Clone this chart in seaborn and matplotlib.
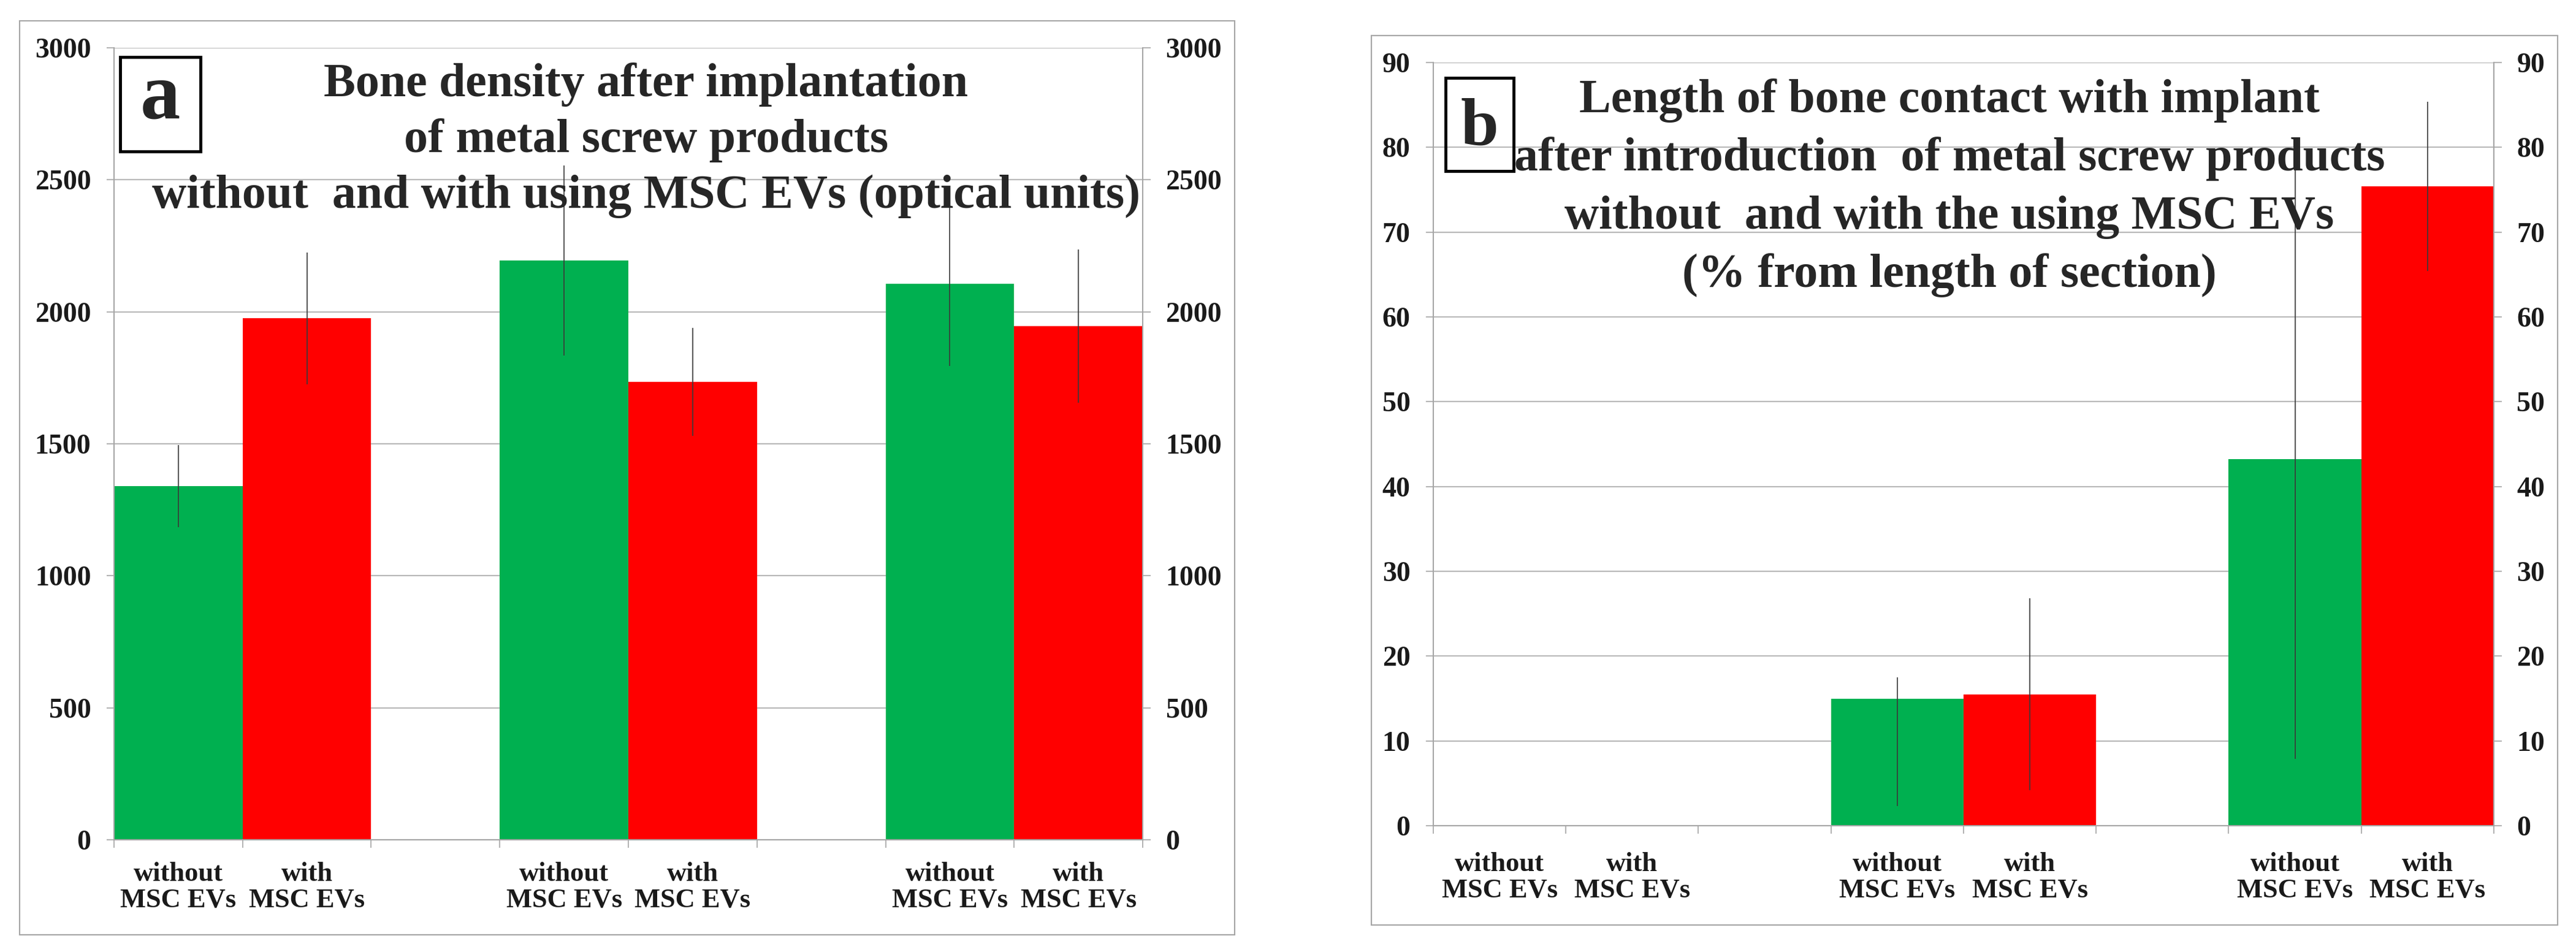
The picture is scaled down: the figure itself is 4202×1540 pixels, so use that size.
import pandas as pd
import numpy as np
import matplotlib
matplotlib.use('Agg')
import matplotlib.pyplot as plt
import seaborn as sns
from matplotlib.patches import Rectangle

# ======================
# DATA
# ======================
groups = ['g1', 'g2', 'g3']
treatments = ['without', 'with']
tick_labels = {'without': 'without\nMSC EVs', 'with': 'with\nMSC EVs'}
colors = {'without': '#00B050', 'with': '#FF0000'}

# panel a: bone density (optical units)
density = [1340, 1975, 2195, 1735, 2105, 1945]
density_err_lo = [155, 250, 360, 205, 310, 290]
density_err_hi = [155, 250, 360, 205, 310, 290]

# panel b: length of bone contact (% of section)
contact = [0, 0, 15.0, 15.5, 43.2, 75.4]
contact_err_lo = [0, 0, 12.7, 11.3, 35.3, 10.0]
contact_err_hi = [0, 0, 2.5, 11.3, 35.3, 10.0]

title_a = ['Bone density after implantation',
           'of metal screw products',
           'without  and with using MSC EVs (optical units)']
title_b = ['Length of bone contact with implant',
           'after introduction  of metal screw products',
           'without  and with the using MSC EVs',
           '(% from length of section)']

# category slots, an empty slot between the groups
order = []
for i, g in enumerate(groups):
    for t in treatments:
        order.append(g + ' ' + t)
    if i < len(groups) - 1:
        order.append('gap' + str(i))

sns.set_style('white')
plt.rcParams['font.family'] = ['Liberation Serif', 'DejaVu Serif']
plt.rcParams['font.weight'] = 'bold'

GRID = '#b8b8b8'
AXC = '#a6a6a6'


def draw_panel(ax, values, err_lo, err_hi, ymax, step, xpad):
    df = pd.DataFrame({
        'slot': [g + ' ' + t for g in groups for t in treatments],
        'treatment': [t for g in groups for t in treatments],
        'value': values,
        'lo': err_lo,
        'hi': err_hi,
    })
    sns.barplot(data=df, x='slot', y='value', hue='treatment', order=order,
                palette=colors, dodge=False, width=1.0, saturation=1,
                errorbar=None, legend=False, linewidth=0, ax=ax, zorder=2)

    # error bars (plain lines, no caps)
    for _, r in df.iterrows():
        if r['lo'] == 0 and r['hi'] == 0:
            continue
        x = order.index(r['slot'])
        ax.vlines(x, r['value'] - r['lo'], r['value'] + r['hi'],
                  color='#3a3a3a', lw=1.2, zorder=3)

    ax.set_xlim(-0.5, len(order) - 0.5)
    ax.set_ylim(0, ymax)
    ax.set_yticks(np.arange(0, ymax + step, step))
    ax.set_xticks(range(len(order)))
    ax.set_xticklabels([tick_labels[s.split(' ')[1]] if ' ' in s else ''
                        for s in order], linespacing=1.1)
    ax.set_xticks(np.arange(-0.5, len(order), 1), minor=True)
    ax.set_xlabel('')
    ax.set_ylabel('')

    ax.yaxis.grid(True, color=GRID, lw=1.5)
    ax.xaxis.grid(False)
    ax.set_axisbelow(True)
    for side in ['left', 'right', 'bottom']:
        ax.spines[side].set_visible(True)
        ax.spines[side].set_color(AXC)
        ax.spines[side].set_linewidth(1.5)
    ax.spines['top'].set_visible(False)

    ax.tick_params(axis='y', left=True, right=True, labelleft=True,
                   labelright=True, length=9, width=1.2, color=AXC,
                   pad=18, labelsize=33, labelcolor='#1a1a1a')
    ax.tick_params(axis='x', which='major', length=0, pad=xpad,
                   labelsize=32, labelcolor='#1a1a1a')
    ax.tick_params(axis='x', which='minor', bottom=True, length=9,
                   width=1.2, color=AXC)


fig = plt.figure(figsize=(42.02, 15.4), dpi=100)
ax_a = fig.add_axes([0.04426, 0.11039, 0.39934, 0.83896])
ax_b = fig.add_axes([0.55640, 0.12532, 0.41171, 0.80845])

draw_panel(ax_a, density, density_err_lo, density_err_hi, 3000, 500, 26)
draw_panel(ax_b, contact, contact_err_lo, contact_err_hi, 90, 10, 31)

# outer frames
fig.patches.append(Rectangle((0.00762, 0.00974), 0.47168, 0.96818,
                             transform=fig.transFigure, fill=False,
                             edgecolor=AXC, lw=1.5))
fig.patches.append(Rectangle((0.53237, 0.02013), 0.46049, 0.94221,
                             transform=fig.transFigure, fill=False,
                             edgecolor=AXC, lw=1.5))

# panel letters in boxes
fig.patches.append(Rectangle((0.04664, 0.83961), 0.03118, 0.10000,
                             transform=fig.transFigure, fill=False,
                             edgecolor='black', lw=3.5, zorder=5))
fig.text(0.06223, 0.87532, 'a', ha='center', va='baseline', fontsize=94,
         fontweight='bold', zorder=6)
fig.patches.append(Rectangle((0.56116, 0.81883), 0.02642, 0.09870,
                             transform=fig.transFigure, fill=False,
                             edgecolor='black', lw=3.5, zorder=5))
fig.text(0.57437, 0.84610, 'b', ha='center', va='baseline', fontsize=80,
         fontweight='bold', zorder=6)

# titles, line by line
for i, line in enumerate(title_a):
    fig.text(0.25083, 1 - (157 + i * 91) / 1540, line, ha='center',
             va='baseline', fontsize=56, fontweight='bold', zorder=6)
for i, line in enumerate(title_b):
    fig.text(0.75678, 1 - (183 + i * 95) / 1540, line, ha='center',
             va='baseline', fontsize=56, fontweight='bold', zorder=6)

fig.savefig('out.png', dpi=100)
